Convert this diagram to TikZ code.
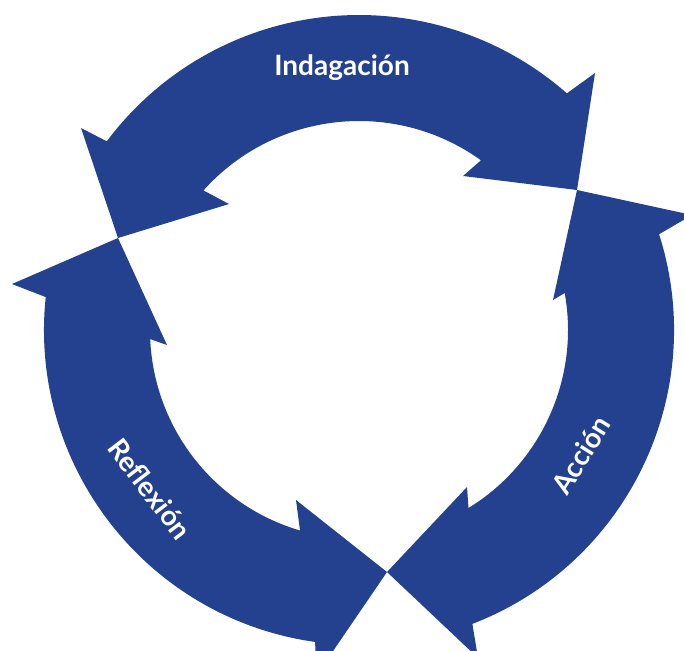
\documentclass[tikz,border=0pt]{standalone}
\usepackage{fontspec}
\setsansfont{Lato}
\usepackage{tikz}
\usetikzlibrary{calc}

\begin{document}
\begin{tikzpicture}[x=0.75pt,y=0.75pt,yscale=-1,xscale=1,
  ringarrow/.style={fill={rgb, 255:red, 35; green, 65; blue, 142 },draw=none},
  ringlabel/.style={text=white,font=\sffamily\bfseries\fontsize{21}{24}\selectfont,inner sep=0pt}]
%set diagram left start at 0, and has height of 650
\clip (0,0) rectangle (684,650);
\coordinate (c) at (359,330);

%Shape: Arrow Indagación
\path [ringarrow] ($(c)+(-48.7:315)$) arc[start angle=-48.7, end angle=-143.2, radius=315]
  -- (81,128) -- (118,238) -- (229,204)
  -- ($(c)+(-138.1:209)$) arc[start angle=-138.1, end angle=-54.3, radius=209]
  -- (463,176) -- (577,190) -- (595,73) -- cycle ;

%Shape: Arrow Reflexión
\path [ringarrow] ($(c)+(-174:315)$) arc[start angle=-174, end angle=-262, radius=315]
  -- (316,676) -- (387,572) -- (296,500)
  -- ($(c)+(-253.6:209)$) arc[start angle=-253.6, end angle=-182.5, radius=209]
  -- (167,345) -- (118,238) -- (12,284) -- cycle ;

%Shape: Arrow Acción
\path [ringarrow] ($(c)+(68.9:315)$) arc[start angle=68.9, end angle=-17.7, radius=315]
  -- (692,215) -- (577,190) -- (553,300)
  -- ($(c)+(-10.2:209)$) arc[start angle=-10.2, end angle=58.4, radius=209]
  -- (467,487) -- (387,572) -- (478,658) -- cycle ;

%Text: labels
\node [ringlabel] (indagacion) at (342,68) {Indagación};
\node [ringlabel,rotate=-52.7] (reflexion) at (150,489) {Reflexión};
\node [ringlabel,rotate=58] (accion) at (581,455) {Acción};

\end{tikzpicture}
\end{document}
